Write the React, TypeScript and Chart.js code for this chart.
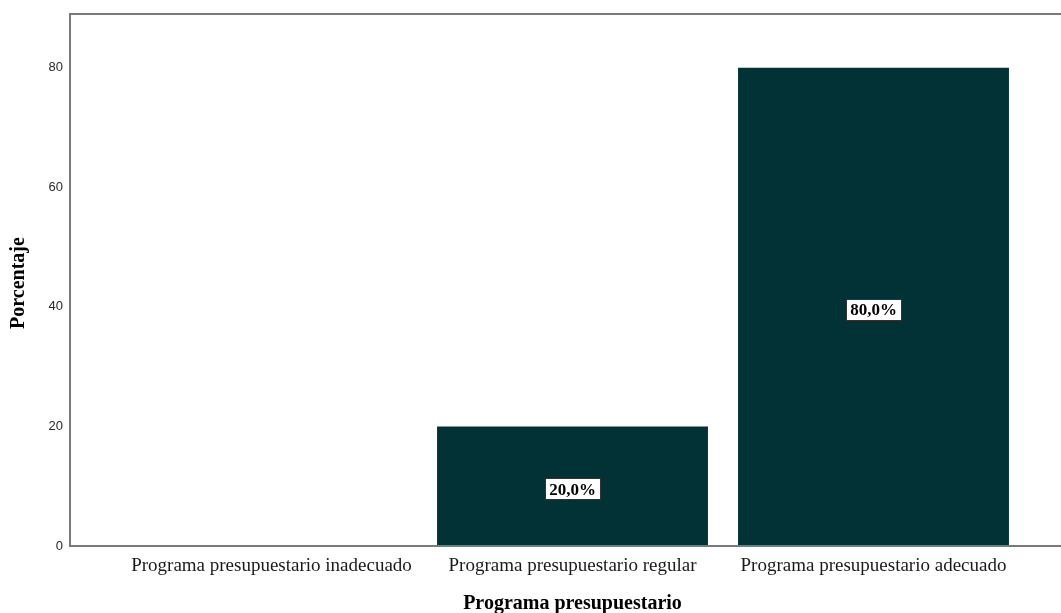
import React, { useEffect, useRef } from "react";
import { Chart, registerables } from "chart.js";

Chart.register(...registerables);

const categories = [
  "Programa presupuestario inadecuado",
  "Programa presupuestario regular",
  "Programa presupuestario adecuado",
];
const percentages = [0, 20, 80];
const yTicks = [0, 20, 40, 60, 80];
const xTitle = "Programa presupuestario";
const yTitle = "Porcentaje";

const W = 1061;
const H = 613;
const FRAME_LEFT = 70;
const SERIF = "'Liberation Serif', 'Times New Roman', serif";

const framePlugin = {
  id: "framePlugin",
  afterDraw(chart: any) {
    const ctx = chart.ctx;
    const a = chart.chartArea;
    ctx.save();
    ctx.strokeStyle = "#7a7a7a";
    ctx.lineWidth = 2;
    ctx.beginPath();
    ctx.moveTo(W, a.top);
    ctx.lineTo(FRAME_LEFT, a.top);
    ctx.lineTo(FRAME_LEFT, a.bottom);
    ctx.lineTo(W, a.bottom);
    ctx.stroke();

    // data labels
    const meta = chart.getDatasetMeta(0);
    ctx.font = "bold 17px " + SERIF;
    ctx.textAlign = "center";
    ctx.textBaseline = "middle";
    meta.data.forEach((el: any, i: number) => {
      const v = percentages[i];
      if (!v) return;
      const txt = v.toFixed(1).replace(".", ",") + "%";
      const cx = el.x;
      const cy = (el.y + el.base) / 2 + 3;
      const tw = ctx.measureText(txt).width;
      const bw = Math.round(tw + 9);
      const bh = 22;
      const bx = Math.round(cx - bw / 2);
      const by = Math.round(cy - bh / 2);
      ctx.fillStyle = "#ffffff";
      ctx.fillRect(bx, by, bw, bh);
      ctx.strokeStyle = "#333333";
      ctx.lineWidth = 1;
      ctx.strokeRect(bx + 0.5, by + 0.5, bw - 1, bh - 1);
      ctx.fillStyle = "#000000";
      ctx.fillText(txt, cx, cy + 1);
    });

    // axis titles
    ctx.fillStyle = "#000000";
    ctx.font = "bold 20px " + SERIF;
    ctx.textAlign = "center";
    ctx.textBaseline = "middle";
    ctx.fillText(xTitle, (a.left + a.right) / 2, 604);
    ctx.save();
    ctx.translate(19, (a.top + a.bottom) / 2 + 3);
    ctx.rotate(-Math.PI / 2);
    ctx.fillText(yTitle, 0, 0);
    ctx.restore();
    ctx.restore();
  },
};

export default function App() {
  const ref = useRef<HTMLCanvasElement>(null);
  useEffect(() => {
    if (!ref.current) return;
    const chart = new Chart(ref.current, {
      type: "bar",
      data: {
        labels: categories,
        datasets: [
          {
            data: percentages,
            backgroundColor: "#033236",
            borderWidth: 0,
            barPercentage: 0.9,
            categoryPercentage: 1,
          },
        ],
      },
      options: {
        responsive: false,
        animation: false,
        layout: { padding: { top: 14, left: 0, right: 37, bottom: 0 } },
        plugins: { legend: { display: false }, tooltip: { enabled: false } },
        scales: {
          x: {
            type: "category",
            offset: true,
            grid: { display: false, drawTicks: false },
            border: { display: false },
            ticks: {
              autoSkip: false,
              maxRotation: 0,
              padding: 9,
              color: "#1a1a1a",
              font: { family: SERIF, size: 19 },
            },
            afterFit: (s: any) => {
              s.height = 67;
              s.paddingLeft = 0;
              s.paddingRight = 0;
            },
          },
          y: {
            min: 0,
            max: 89,
            afterBuildTicks: (s: any) => {
              s.ticks = yTicks.map((v) => ({ value: v }));
            },
            grid: { display: false, drawTicks: false },
            border: { display: false },
            ticks: {
              padding: 58,
              color: "#2a2a2a",
              font: { family: "'Liberation Sans', Arial, sans-serif", size: 13 },
            },
            afterFit: (s: any) => {
              s.width = 121;
              s.paddingTop = 0;
              s.paddingBottom = 0;
            },
          },
        },
      },
      plugins: [framePlugin],
    });
    return () => chart.destroy();
  }, []);
  return (
    <div style={{ position: "fixed", left: 0, top: 0, width: W, height: H, background: "#fff" }}>
      <canvas ref={ref} width={W} height={H} style={{ display: "block" }} />
    </div>
  );
}
